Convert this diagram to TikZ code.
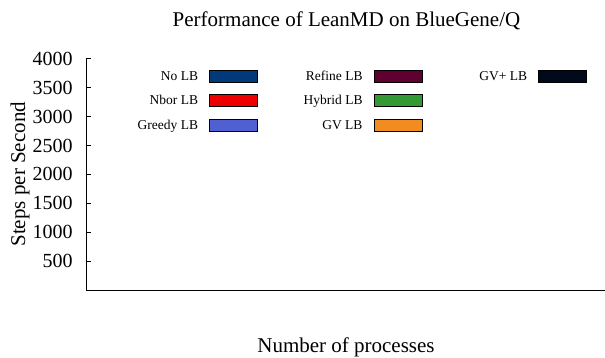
\documentclass[tikz,border=0pt]{standalone}
\usepackage{fontspec}
\setmainfont{Liberation Serif}
\definecolor{cNo}{HTML}{003A7A}
\definecolor{cNbor}{HTML}{EE0000}
\definecolor{cGreedy}{HTML}{5060D0}
\definecolor{cRefine}{HTML}{5F0030}
\definecolor{cHybrid}{HTML}{339933}
\definecolor{cGV}{HTML}{F08C20}
\definecolor{cGVplus}{HTML}{000A1A}
\begin{document}
\begin{tikzpicture}[x=1pt,y=-1pt,
  bigtxt/.style={inner sep=0pt,font=\fontsize{21}{25}\selectfont},
  ticklbl/.style={inner sep=0pt,anchor=base east,font=\fontsize{20}{24}\selectfont},
  legtxt/.style={inner sep=0pt,anchor=base east,font=\fontsize{13.5}{16}\selectfont},
  swatch/.style={draw=black,line width=0.8pt,minimum width=48pt,minimum height=12pt,inner sep=0pt},
  axisline/.style={line width=1pt,black}]
\useasboundingbox (0,0) rectangle (605,358);
% title and axis labels
\node[bigtxt,anchor=base] (title) at (346.5,26.7) {Performance of LeanMD on BlueGene/Q};
\node[bigtxt,anchor=base] (xlabel) at (346,352.8) {Number of processes};
\node[bigtxt,anchor=base,rotate=90] (ylabel) at (25,174.2) {Steps per Second};
% axes
\coordinate (top) at (86,59);
\coordinate (origin) at (86,290);
\coordinate (right) at (605,290);
\draw[axisline] (top) -- (origin) -- (right);
% ticks
\foreach \v/\y in {4000/59,3500/87.8,3000/116.7,2500/145.6,2000/174.4,1500/203.3,1000/232.2,500/261.1}{
  \draw[axisline] (86,\y) -- (90.5,\y);
  \node[ticklbl] (t\v) at (72.7,\y+6.6) {\v};
}
% legend
\node[legtxt] (lNo) at (198.3,80.4) {No LB};
\node[swatch,fill=cNo] (sNo) at (233.5,76) {};
\node[legtxt] (lNbor) at (198.3,104.9) {Nbor LB};
\node[swatch,fill=cNbor] (sNbor) at (233.5,100.5) {};
\node[legtxt] (lGreedy) at (198.3,129.4) {Greedy LB};
\node[swatch,fill=cGreedy] (sGreedy) at (233.5,125) {};
\node[legtxt] (lRefine) at (362.7,80.4) {Refine LB};
\node[swatch,fill=cRefine] (sRefine) at (398.2,76) {};
\node[legtxt] (lHybrid) at (362.7,104.9) {Hybrid LB};
\node[swatch,fill=cHybrid] (sHybrid) at (398.2,100.5) {};
\node[legtxt] (lGV) at (362.7,129.4) {GV LB};
\node[swatch,fill=cGV] (sGV) at (398.2,125) {};
\node[legtxt] (lGVplus) at (527.3,80.4) {GV+ LB};
\node[swatch,fill=cGVplus] (sGVplus) at (562.5,76) {};
\end{tikzpicture}
\end{document}
